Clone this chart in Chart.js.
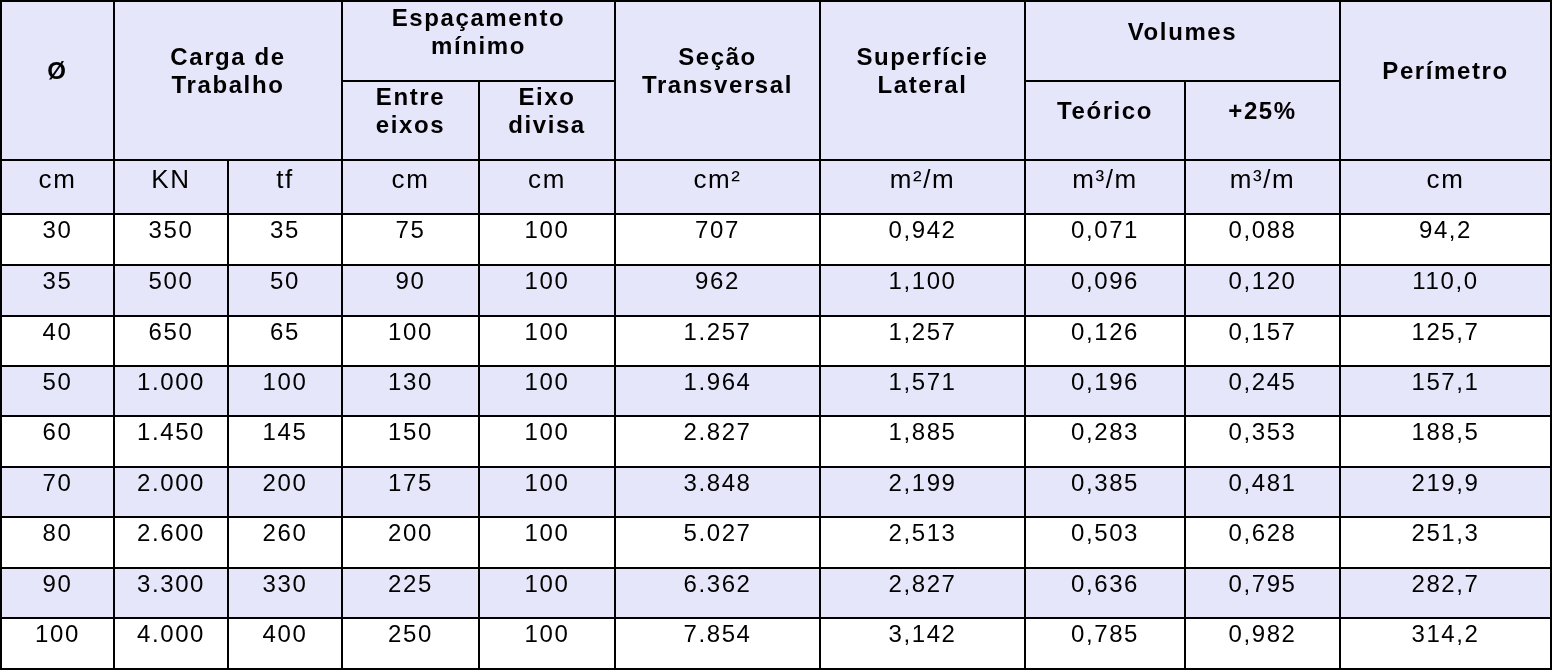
<!DOCTYPE html>
<html><head><meta charset="utf-8">
<script src="https://cdn.jsdelivr.net/npm/chart.js@4"></script>
<style>html,body{margin:0;padding:0;background:#fff}#w{width:1552px;height:670px}</style>
</head><body><div id="w"><canvas id="c" width="1552" height="670"></canvas></div>
<script>
const diametro=[30,35,40,50,60,70,80,90,100];
const cargaKN=[350,500,650,1000,1450,2000,2600,3300,4000];
const cargaTf=[35,50,65,100,145,200,260,330,400];
const entreEixos=[75,90,100,130,150,175,200,225,250];
const eixoDivisa=[100,100,100,100,100,100,100,100,100];
const secao=[707,962,1257,1964,2827,3848,5027,6362,7854];
const superficie=[0.942,1.100,1.257,1.571,1.885,2.199,2.513,2.827,3.142];
const volTeorico=[0.071,0.096,0.126,0.196,0.283,0.385,0.503,0.636,0.785];
const vol25=[0.088,0.120,0.157,0.245,0.353,0.481,0.628,0.795,0.982];
const perimetro=[94.2,110.0,125.7,157.1,188.5,219.9,251.3,282.7,314.2];
const unidades=['cm','KN','tf','cm','cm','cm²','m²/m','m³/m','m³/m','cm'];
const decimais=[0,0,0,0,0,0,3,3,3,1];
const colunas=[diametro,cargaKN,cargaTf,entreEixos,eixoDivisa,secao,superficie,volTeorico,vol25,perimetro];

const colX=[1,114,228,342,479,615,820,1025,1185,1340,1551];
const rowY=[1,160,214,265,316,366,416,467,517,568,618,669];
const midY=81;
const LAV='#e6e6fa';

function fmt(v,d){
  let s=v.toFixed(d);let [i,f]=s.split('.');
  i=i.replace(/\B(?=(\d{3})+(?!\d))/g,'.');
  return f?i+','+f:i;
}
const headers=[
  [0,1,0,160,['Ø']],[1,3,0,160,['Carga de','Trabalho']],
  [3,5,0,81,['Espaçamento','mínimo']],[3,4,81,160,['Entre','eixos']],[4,5,81,160,['Eixo','divisa']],
  [5,6,0,160,['Seção','Transversal']],[6,7,0,160,['Superfície','Lateral']],
  [7,9,0,81,['Volumes']],[7,8,81,160,['Teórico']],[8,9,81,160,['+25%']],
  [9,10,0,160,['Perímetro']]
];
const tablePlugin={id:'table',afterDraw(ch){
  const ctx=ch.ctx,X=ch.scales.x,Y=ch.scales.y;
  const px=v=>X.getPixelForValue(v),py=v=>Y.getPixelForValue(v);
  ctx.save();ctx.lineWidth=2;ctx.strokeStyle='#000';ctx.fillStyle='#000';
  ctx.textAlign='center';ctx.textBaseline='middle';
  try{ctx.letterSpacing='1.6px';}catch(e){}
  function cell(x0,x1,y0,y1,fill,lines,font,dy){
    const a=px(x0),b=px(x1),t=py(y0),u=py(y1);
    ctx.fillStyle=fill;ctx.fillRect(a,t,b-a,u-t);
    ctx.strokeRect(a,t,b-a,u-t);
    ctx.fillStyle='#000';ctx.font=font;
    const cx=(a+b)/2,cy=(t+u)/2+dy,lh=28;
    lines.forEach((l,i)=>ctx.fillText(l,cx,cy+(i-(lines.length-1)/2)*lh));
  }
  headers.forEach(h=>{
    const y0=h[2]===0?rowY[0]:midY, y1=h[3]===160?rowY[1]:midY;
    cell(colX[h[0]],colX[h[1]],y0,y1,LAV,h[4],'bold 24px "Liberation Sans"',-8);
  });
  unidades.forEach((u,c)=>cell(colX[c],colX[c+1],rowY[1],rowY[2],LAV,[u],'26px "Liberation Sans"',-6));
  diametro.forEach((_,r)=>{
    colunas.forEach((col,c)=>cell(colX[c],colX[c+1],rowY[r+2],rowY[r+3],r%2?LAV:'#fff',[fmt(col[r],decimais[c])],'24px "Liberation Sans"',-8));
  });
  ctx.restore();
}};
new Chart(document.getElementById('c'),{type:'scatter',data:{datasets:[{data:[]}]},
  options:{responsive:false,animation:false,devicePixelRatio:1,layout:{padding:0},
    plugins:{legend:{display:false},tooltip:{enabled:false}},
    scales:{x:{type:'linear',min:0,max:1552,display:false},y:{type:'linear',min:0,max:670,reverse:true,display:false}}},
  plugins:[tablePlugin]});
</script></body></html>
